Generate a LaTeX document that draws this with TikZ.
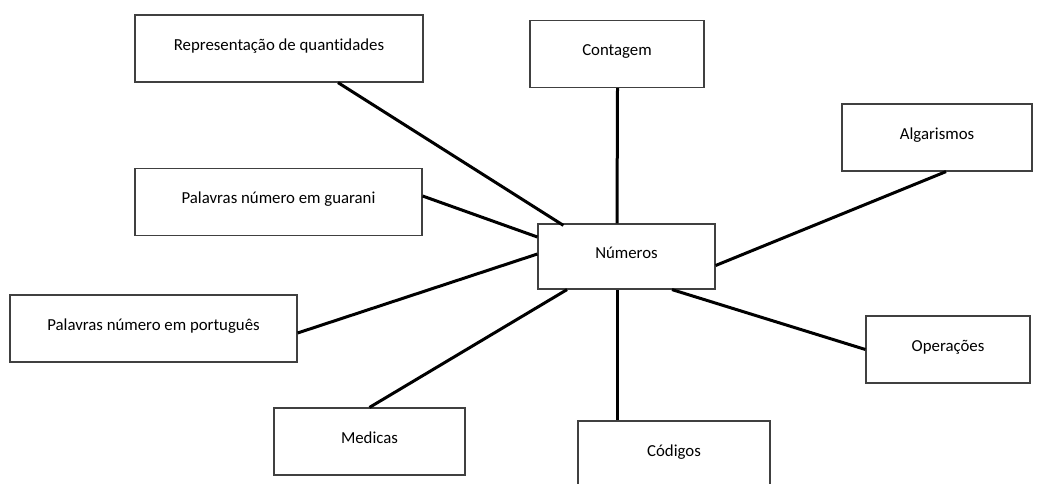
\documentclass[tikz,border=0pt]{standalone}
\usepackage{fontspec}
\setmainfont{Carlito}[Ligatures=NoCommon]
\begin{document}
\begin{tikzpicture}[x=1pt,y=-1pt,
  caixa/.style={draw=black!75,line width=1.2pt,minimum width=#1,minimum height=67pt,
    inner sep=0pt,align=center,text height=0.68em,text depth=0.3em,
    font=\fontsize{16.8}{20}\selectfont},
  ligacao/.style={line width=3pt}]
\useasboundingbox (0,0) rectangle (1043,484);

\node[caixa=288] (rep) at (279,48.5) {Representação de quantidades};
\node[caixa=174] (cont) at (617,54) {Contagem};
\node[caixa=190] (alg) at (937,137.5) {Algarismos};
\node[caixa=287] (gua) at (278.5,202) {Palavras número em guarani};
\node[caixa=177,minimum height=65pt] (num) at (626.5,256.5) {Números};
\node[caixa=287] (por) at (153.5,328.5) {Palavras número em português};
\node[caixa=164] (ope) at (948,349.5) {Operações};
\node[caixa=191] (med) at (369.5,441.5) {Medicas};
\node[caixa=192] (cod) at (674,454.5) {Códigos};

\draw[ligacao] ([xshift=59pt]rep.south) -- ([xshift=26pt,yshift=-2pt]num.north west);
\draw[ligacao] ([xshift=0.5pt]cont.south) -- ([xshift=-9.5pt]num.north);
\draw[ligacao] ([xshift=9pt]alg.south) -- ([yshift=-9pt]num.east);
\draw[ligacao] ([yshift=6pt]gua.east) -- ([yshift=19.5pt]num.west);
\draw[ligacao] ([yshift=-4.5pt]por.east) -- ([yshift=2.5pt]num.west);
\draw[ligacao] (ope.west) -- ([xshift=45.5pt]num.south);
\draw[ligacao] (med.north) -- ([xshift=-59.5pt]num.south);
\draw[ligacao] ([xshift=-57pt]cod.north) -- ([xshift=-9.5pt]num.south);
\end{tikzpicture}
\end{document}
